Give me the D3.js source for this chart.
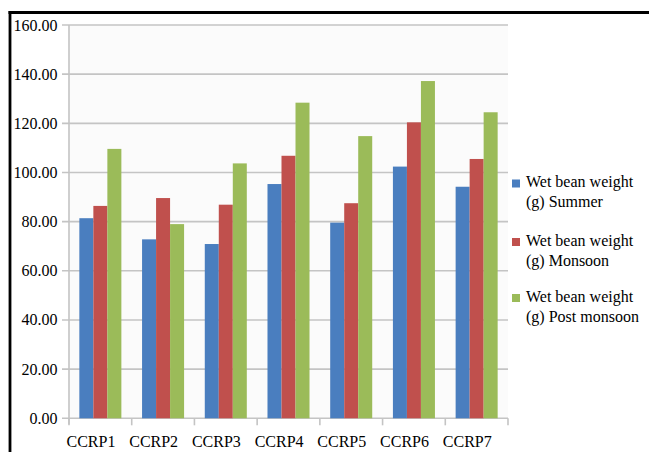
<!DOCTYPE html>
<html>
<head>
<meta charset="utf-8">
<script src="https://cdn.jsdelivr.net/npm/d3@7/dist/d3.min.js"></script>
<style>
  html, body { margin: 0; padding: 0; background: #fff; }
  svg { display: block; }
</style>
</head>
<body>
<svg id="chart" width="649" height="452"></svg>
<script>
// Wet bean weight (g) per clone, by season
const categories = ["CCRP1", "CCRP2", "CCRP3", "CCRP4", "CCRP5", "CCRP6", "CCRP7"];
const seriesNames = [
  ["Wet bean weight", "(g) Summer"],
  ["Wet bean weight", "(g) Monsoon"],
  ["Wet bean weight", "(g) Post monsoon"]
];
const summer      = [81.4, 72.8, 70.9, 95.3, 79.6, 102.4, 94.2];
const monsoon     = [86.4, 89.6, 86.9, 106.8, 87.5, 120.4, 105.5];
const postMonsoon = [109.6, 79.0, 103.7, 128.4, 114.8, 137.2, 124.5];
const yTicks = [0, 20, 40, 60, 80, 100, 120, 140, 160];
const colors = ["#4a7ebf", "#c0504d", "#9bbb59"];

const series = [summer, monsoon, postMonsoon];
const serif = "'Liberation Serif', Tinos, 'Times New Roman', 'DejaVu Serif', serif";
const fontSize = 16;

const svg = d3.select("#chart")
  .attr("font-family", serif)
  .style("font-family", serif);

const plotLeft = 69, plotRight = 508, plotTop = 25, plotBottom = 418.3;

const x = d3.scaleBand().domain(categories).range([plotLeft, plotRight]).padding(0);
const bw = x.bandwidth();
const xInner = d3.scaleBand().domain(d3.range(series.length))
  .range([bw * 0.165, bw * 0.835]).padding(0);
const y = d3.scaleLinear().domain([0, 160]).range([plotBottom, plotTop]);

// faint plot background
svg.append("rect")
  .attr("x", plotLeft).attr("y", plotTop)
  .attr("width", plotRight - plotLeft).attr("height", plotBottom - plotTop)
  .attr("fill", "#fbfbfb");

// horizontal gridlines with short outward ticks
svg.append("g").selectAll("line").data(yTicks).join("line")
  .attr("x1", plotLeft - 7).attr("x2", plotRight)
  .attr("y1", d => y(d)).attr("y2", d => y(d))
  .attr("stroke", "#c4c4c4").attr("stroke-width", 1.6);

// y tick labels
svg.append("g").selectAll("text").data(yTicks).join("text")
  .attr("x", 57.5).attr("y", d => y(d) + 5.5)
  .attr("text-anchor", "end")
  .attr("font-family", serif)
  .attr("font-size", fontSize)
  .attr("fill", "#000")
  .text(d => d3.format(".2f")(d));

// y axis line
svg.append("line")
  .attr("x1", plotLeft).attr("x2", plotLeft).attr("y1", plotTop).attr("y2", plotBottom + 6)
  .attr("stroke", "#c4c4c4").attr("stroke-width", 1.6);

// x axis ticks at category boundaries
const bounds = categories.map(c => x(c)).concat([plotRight]);
svg.append("g").selectAll("line").data(bounds).join("line")
  .attr("x1", d => d).attr("x2", d => d)
  .attr("y1", plotBottom).attr("y2", plotBottom + 7)
  .attr("stroke", "#c4c4c4").attr("stroke-width", 1.6);

// bars
const groups = svg.append("g").selectAll("g").data(categories).join("g")
  .attr("transform", c => `translate(${x(c)},0)`);
groups.selectAll("rect")
  .data((c, i) => series.map((s, k) => ({ k, v: s[i] })))
  .join("rect")
  .attr("x", d => xInner(d.k))
  .attr("width", xInner.bandwidth())
  .attr("y", d => y(d.v))
  .attr("height", d => y(0) - y(d.v))
  .attr("fill", d => colors[d.k]);

// x tick labels
svg.append("g").selectAll("text").data(categories).join("text")
  .attr("x", c => x(c) - 2.5)
  .attr("y", 446.5)
  .attr("font-family", serif)
  .attr("font-size", fontSize)
  .attr("fill", "#000")
  .text(c => c);

// legend
const legendY = [181.5, 240, 296];
const legend = svg.append("g").selectAll("g").data(seriesNames).join("g")
  .attr("transform", (d, i) => `translate(512,${legendY[i]})`);
legend.append("rect")
  .attr("x", 0).attr("y", -2).attr("width", 8).attr("height", 8)
  .attr("fill", (d, i) => colors[i]);
legend.append("text")
  .attr("x", 14).attr("y", 5.5)
  .attr("font-family", serif)
  .attr("font-size", fontSize)
  .attr("fill", "#000")
  .text(d => d[0]);
legend.append("text")
  .attr("x", 14).attr("y", 25.5)
  .attr("font-family", serif)
  .attr("font-size", fontSize)
  .attr("fill", "#000")
  .text(d => d[1]);

// frame lines on top and left
svg.append("line")
  .attr("x1", 8.5).attr("x2", 649).attr("y1", 12.5).attr("y2", 12.5)
  .attr("stroke", "#000").attr("stroke-width", 2.8);
svg.append("line")
  .attr("x1", 10).attr("x2", 10).attr("y1", 11).attr("y2", 452)
  .attr("stroke", "#000").attr("stroke-width", 2.8);
</script>
</body>
</html>
